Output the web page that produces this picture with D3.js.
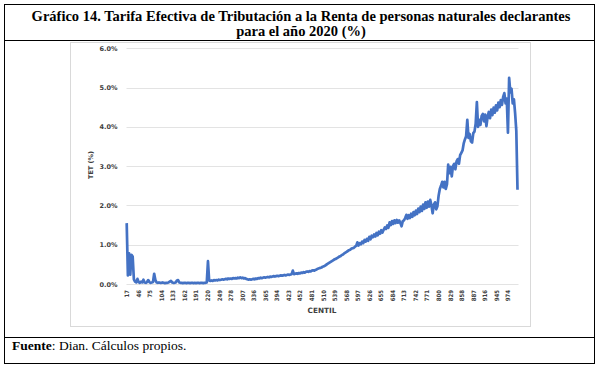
<!DOCTYPE html>
<html><head><meta charset="utf-8">
<script src="https://cdn.jsdelivr.net/npm/d3@7"></script>
<style>body{margin:0;background:#fff}</style>
</head><body><svg id="c" width="602" height="366"></svg>
<script>
const titleLines = ["Gráfico 14. Tarifa Efectiva de Tributación a la Renta de personas naturales declarantes", "para el año 2020 (%)"];
const sourceBold = "Fuente";
const sourceRest = ": Dian. Cálculos propios.";
const yTitle = "TET (%)";
const xTitle = "CENTIL";
const yTicks = [0, 1, 2, 3, 4, 5, 6];
const xTickLabels = [17,46,75,104,133,162,191,220,249,278,307,336,365,394,423,452,481,510,539,568,597,626,655,684,713,742,771,800,829,858,887,916,945,974];
const centilFirst = 17, centilLast = 1000, sampleStep = 3;
// TET (%) sampled every 3 centiles starting at 17
const tet = [
1.55,0.22,0.78,0.24,0.74,0.70,0.12,
0.06,0.04,0.13,0.05,0.03,0.06,0.04,0.11,0.04,0.03,0.05,0.10,0.05,0.03,0.04,0.05,0.26,0.10,0.04,
0.03,0.04,0.03,0.03,0.04,0.03,0.02,0.03,0.03,0.04,0.06,0.08,0.04,0.03,0.03,0.04,0.09,0.10,0.04,0.03,
0.03,0.02,0.03,0.03,0.02,0.03,0.03,0.02,0.03,0.03,0.02,0.03,0.02,0.03,0.03,0.02,0.03,0.03,0.02,0.03,0.03,0.04,
0.58,
0.09,0.08,0.09,0.08,0.10,0.09,0.10,0.09,0.11,0.10,0.11,0.12,0.11,0.12,0.13,0.12,0.14,0.13,0.14,0.13,0.15,0.14,0.15,0.14,0.16,0.15,
0.17,0.15,0.16,0.14,0.15,0.13,0.12,0.11,0.12,0.11,0.12,0.13,0.12,0.14,0.13,0.15,0.14,0.16,0.15,0.16,0.17,0.16,0.17,0.18,0.17,0.19,0.18,0.19,0.20,0.19,0.20,0.21,0.20,0.21,0.22,0.21,0.22,0.23,0.22,0.23,0.24,0.23,
0.24,0.25,0.34,0.25,0.26,
0.27,0.26,0.28,0.27,0.29,0.28,0.30,0.29,0.31,0.32,0.31,0.33,0.32,0.34,0.35,0.34,0.36,0.37,0.39,0.40,0.41,0.42,0.44,0.45,0.47,0.49,0.51,0.53,0.55,0.57,0.59,0.61,0.63,0.64,0.66,0.68,
0.70,0.71,0.74,0.75,0.78,0.80,0.82,0.84,0.86,0.87,0.90,0.91,0.92,0.95,0.97,
1.06,0.98,1.04,1.01,1.08,1.04,1.12,1.08,1.15,1.10,1.20,1.14,1.23,1.19,1.26,1.21,1.30,1.24,1.33,1.28,1.37,1.31,1.38,
1.44,1.40,1.49,1.43,1.57,1.50,1.60,1.53,1.62,1.55,1.63,1.56,1.62,1.55,1.47,1.60,1.62,1.68,1.76,1.66,1.75,1.68,1.79,1.71,1.83,1.75,1.87,1.78,1.92,1.83,1.97,1.86,2.02,1.91,2.08,1.94,2.10,1.97,2.14,2.00,1.80,2.02,2.08,1.90,1.98,
2.25,2.42,2.50,2.60,2.46,2.60,2.42,2.54,3.04,2.82,2.98,2.74,3.00,3.06,2.92,3.12,3.18,3.06,3.28,3.34,3.40,3.58,3.68,3.76,4.18,3.72,3.82,3.63,3.60,3.84,3.88,4.08,4.63,4.00,4.18,4.05,4.28,4.33,4.14,4.31,4.02,4.26,4.38,4.22,4.44,4.30,4.49,4.36,4.55,4.42,4.62,4.50,4.68,4.56,4.76,4.86,4.60,4.72,3.85,5.25,4.88,4.97,4.60,4.70,4.35,3.90,2.40
];

const svg = d3.select("#c");
const serif = "'Liberation Serif','Times New Roman',serif";
const sans = "'DejaVu Sans',sans-serif";

// outer frame
const frame = {l: 4.5, r: 594.5, t: 4.5, b: 363.5, titleB: 40.5, srcT: 337.5};
svg.append("rect").attr("x", frame.l).attr("y", frame.t).attr("width", frame.r - frame.l).attr("height", frame.b - frame.t)
  .attr("fill", "none").attr("stroke", "#000").attr("stroke-width", 1);
svg.append("line").attr("x1", frame.l).attr("x2", frame.r).attr("y1", frame.titleB).attr("y2", frame.titleB).attr("stroke", "#000");
svg.append("line").attr("x1", frame.l).attr("x2", frame.r).attr("y1", frame.srcT).attr("y2", frame.srcT).attr("stroke", "#000");

svg.selectAll("text.title").data(titleLines).enter().append("text")
  .attr("x", 301).attr("y", (d, i) => 21 + i * 15)
  .attr("text-anchor", "middle").attr("font-family", serif).attr("font-weight", "bold").attr("font-size", 14.5)
  .text(d => d);

const src = svg.append("text").attr("x", 12).attr("y", 350).attr("font-family", serif).attr("font-size", 13.5);
src.append("tspan").attr("font-weight", "bold").text(sourceBold);
src.append("tspan").text(sourceRest);

// chart area
svg.append("rect").attr("x", 70.5).attr("y", 42.5).attr("width", 460).attr("height", 284)
  .attr("fill", "#fff").attr("stroke", "#d9d9d9");

const plot = {l: 126.5, r: 518.5, t: 48.3, b: 284};
const categories = d3.range(centilFirst, centilLast + 1);
const x = d3.scaleBand().domain(categories).range([plot.l, plot.r]);
const y = d3.scaleLinear().domain([0, 6]).range([plot.b, plot.t]);
const cx = c => x(c) + x.bandwidth() / 2;

// grid
svg.append("g").selectAll("line").data(yTicks).enter().append("line")
  .attr("x1", plot.l).attr("x2", plot.r).attr("y1", d => Math.round(y(d)) + 0.5).attr("y2", d => Math.round(y(d)) + 0.5)
  .attr("stroke", "#e3e3e3").attr("stroke-width", 1);

// y axis labels
const yAxis = d3.axisLeft(y).tickValues(yTicks).tickFormat(d => d.toFixed(1) + "%").tickSize(0).tickPadding(0);
const gy = svg.append("g").attr("transform", `translate(${plot.l - 9},0)`).call(yAxis);
gy.select(".domain").remove();
gy.selectAll("text").attr("font-family", sans).attr("font-weight", "bold").attr("font-size", 6.5).attr("fill", "#404040");

// x axis labels
const xAxis = d3.axisBottom(x).tickValues(xTickLabels).tickSize(0).tickPadding(0);
const gx = svg.append("g").attr("transform", `translate(0,${plot.b + 6})`).call(xAxis);
gx.select(".domain").remove();
gx.selectAll("text").attr("font-family", "'DejaVu Sans Condensed','DejaVu Sans',sans-serif").attr("font-weight", "bold")
  .attr("font-size", 6).attr("fill", "#404040")
  .attr("text-anchor", "end").attr("dy", "0.35em").attr("y", 0)
  .attr("transform", "rotate(-90)").attr("x", 0);

// axis titles
svg.append("text").attr("transform", `translate(93,165) rotate(-90)`).attr("text-anchor", "middle")
  .attr("font-family", sans).attr("font-weight", "bold").attr("font-size", 6.5).attr("fill", "#404040").text(yTitle);
svg.append("text").attr("x", 322).attr("y", 312.5).attr("text-anchor", "middle")
  .attr("font-family", sans).attr("font-weight", "bold").attr("font-size", 7.3).attr("fill", "#404040").text(xTitle);

// line
const pts = tet.map((v, i) => ({c: centilFirst + i * sampleStep, v}));
const line = d3.line().x(d => cx(d.c)).y(d => y(d.v));
svg.append("path").datum(pts).attr("d", line).attr("fill", "none")
  .attr("stroke", "#4472c4").attr("stroke-width", 2.7).attr("stroke-linejoin", "round");
</script></body></html>
